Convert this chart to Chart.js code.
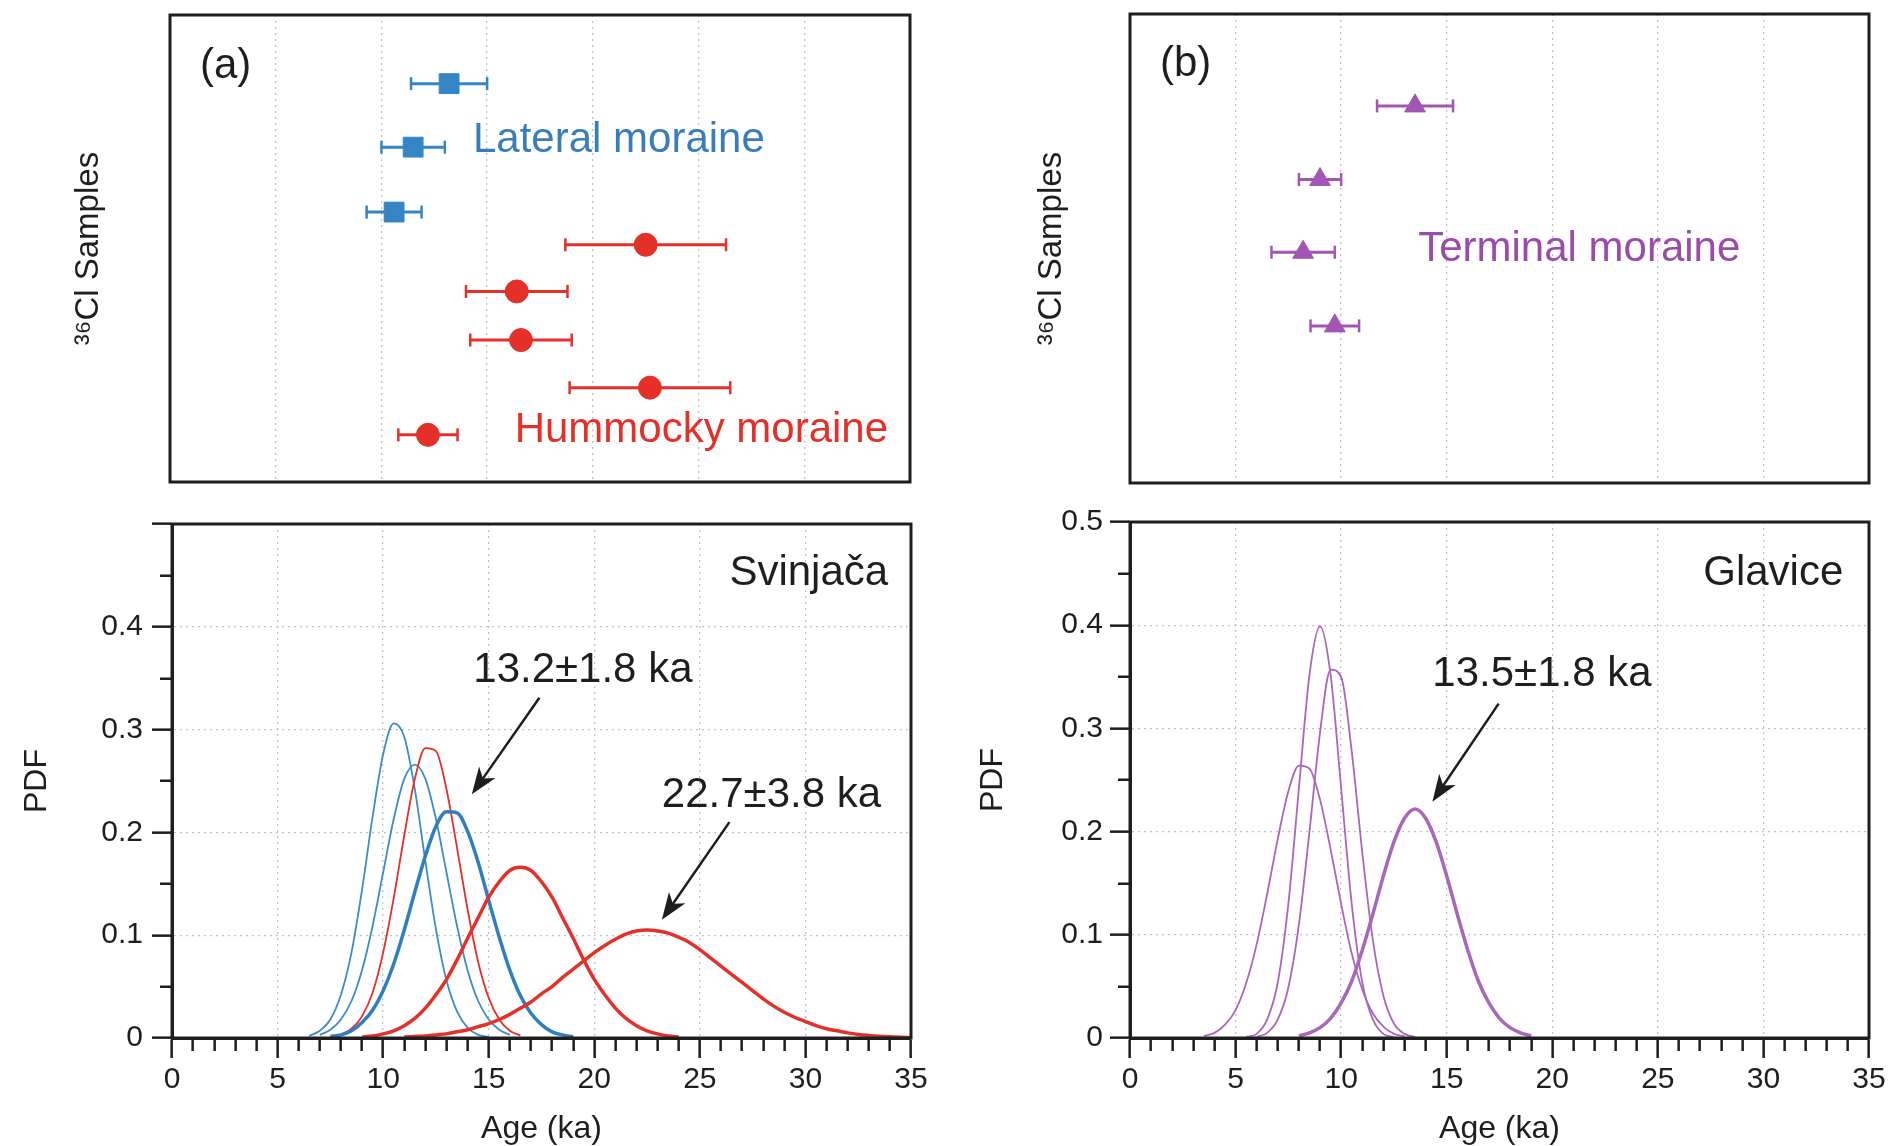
<!DOCTYPE html>
<html>
<head>
<meta charset="utf-8">
<title>36Cl ages - Svinjaca / Glavice</title>
<script src="https://cdn.jsdelivr.net/npm/chart.js@4.4.1/dist/chart.umd.min.js"></script>
<style>
  body { margin: 0; background: #fff; }
  #wrap { position: relative; width: 1894px; height: 1146px; overflow: hidden; }
  #wrap canvas { position: absolute; }
</style>
</head>
<body>
<div id="wrap">
  <canvas id="topLeft" width="947" height="497" style="left:0;top:0;width:947px;height:497px"></canvas>
  <canvas id="topRight" width="947" height="497" style="left:947px;top:0;width:947px;height:497px"></canvas>
  <canvas id="pdfLeft" width="947" height="649" style="left:0;top:497px;width:947px;height:649px"></canvas>
  <canvas id="pdfRight" width="947" height="649" style="left:947px;top:497px;width:947px;height:649px"></canvas>
</div>
<script>

// Sample ages (ka), with 1 sigma errors
// rows = vertical position of each sample, 0 = top of box, 1 = bottom
// --------------------------------------------
const lateralAge = [13.2, 11.5, 10.6]
const lateralErr = [1.8, 1.5, 1.3]
const lateralRow = [0.147, 0.283, 0.422]

const hummockyAge = [22.5, 16.4, 16.6, 22.7, 12.2]
const hummockyErr = [3.8, 2.4, 2.4, 3.8, 1.4]
const hummockyRow = [0.492, 0.592, 0.696, 0.798, 0.899]

const terminalAge = [13.5, 9.0, 8.2, 9.7]
const terminalErr = [1.8, 1.0, 1.5, 1.15]
const terminalRow = [0.196, 0.353, 0.508, 0.665]

// Probability curves
// each array lines up with its age grid, missing = curve not drawn there
// --------------------------------------------
const svinjacaAges = [6.5, 7, 7.5, 8, 8.5, 9, 9.5, 10, 10.5, 11,
    11.5, 12, 12.5, 13, 13.5, 14, 14.5, 15, 15.5, 16,
    16.5, 17, 17.5, 18, 18.5, 19, 19.5, 20, 20.5, 21,
    21.5, 22, 22.5, 23, 23.5, 24, 24.5, 25, 25.5, 26,
    26.5, 27, 27.5, 28, 28.5, 29, 29.5, 30, 30.5, 31,
    31.5, 32, 32.5, 33, 33.5, 34, 34.5, 35]

const pdfLateral1 = [0.002, 0.007, 0.018, 0.042, 0.083, 0.144, 0.215, 0.276, 0.306, 0.293,
    0.242, 0.172, 0.106, 0.056, 0.026, 0.010, 0.003, 0.001]
const pdfLateral2 = [null, 0.003, 0.008, 0.018, 0.036, 0.066, 0.109, 0.161, 0.213, 0.252,
    0.266, 0.252, 0.213, 0.161, 0.109, 0.066, 0.036, 0.018, 0.008, 0.003]
const pdfLateralMean = [null, null, 0.0015, 0.003, 0.007, 0.015, 0.027, 0.046, 0.072, 0.105,
    0.142, 0.177, 0.206, 0.220, 0.219, 0.201, 0.171, 0.134, 0.098, 0.066,
    0.041, 0.024, 0.013, 0.006, 0.003, 0.001]
const pdfHummocky1 = [null, null, null, 0.003, 0.009, 0.021, 0.044, 0.083, 0.136, 0.197,
    0.252, 0.282, 0.279, 0.242, 0.185, 0.125, 0.074, 0.039, 0.018, 0.007,
    0.0025]
const pdfHummocky2 = [null, null, null, null, null, 0.001, 0.002, 0.004, 0.007, 0.012,
    0.019, 0.029, 0.042, 0.057, 0.076, 0.097, 0.117, 0.137, 0.152, 0.163,
    0.166, 0.163, 0.152, 0.137, 0.117, 0.097, 0.076, 0.057, 0.042, 0.029,
    0.019, 0.012, 0.007, 0.004, 0.002, 0.001]
const pdfHummockyOld = [null, null, null, null, null, null, null, null, null, 0.001,
    0.0015, 0.002, 0.003, 0.004, 0.006, 0.008, 0.011, 0.014, 0.018, 0.023,
    0.029, 0.035, 0.043, 0.050, 0.059, 0.067, 0.075, 0.083, 0.090, 0.096,
    0.101, 0.104, 0.105, 0.104, 0.102, 0.098, 0.093, 0.086, 0.078, 0.070,
    0.062, 0.054, 0.046, 0.038, 0.031, 0.025, 0.020, 0.016, 0.012, 0.009,
    0.007, 0.005, 0.0035, 0.0025, 0.0017, 0.0012, 0.0008, 0.0005]

const glaviceAges = [3.5, 4, 4.5, 5, 5.5, 6, 6.5, 7, 7.5, 8,
    8.5, 9, 9.5, 10, 10.5, 11, 11.5, 12, 12.5, 13,
    13.5, 14, 14.5, 15, 15.5, 16, 16.5, 17, 17.5, 18,
    18.5, 19, 19.5, 20]

const pdfTerminal1 = [0.002, 0.005, 0.013, 0.027, 0.053, 0.091, 0.140, 0.193, 0.239, 0.264,
    0.261, 0.231, 0.183, 0.130, 0.082, 0.047, 0.024, 0.011, 0.004, 0.0016]
const pdfTerminal2 = [null, null, null, null, 0.001, 0.004, 0.018, 0.054, 0.130, 0.242,
    0.352, 0.399, 0.352, 0.242, 0.130, 0.054, 0.018, 0.004, 0.001]
const pdfTerminal3 = [null, null, null, null, null, 0.001, 0.005, 0.018, 0.049, 0.110,
    0.200, 0.296, 0.357, 0.350, 0.278, 0.180, 0.095, 0.041, 0.014, 0.004,
    0.001]
const pdfTerminalMean = [null, null, null, null, null, null, null, null, null, 0.002,
    0.005, 0.010, 0.019, 0.034, 0.055, 0.085, 0.120, 0.157, 0.190, 0.213,
    0.222, 0.213, 0.190, 0.157, 0.120, 0.085, 0.055, 0.034, 0.019, 0.010,
    0.005, 0.002]

const xTicks = [0, 5, 10, 15, 20, 25, 30, 35]

const BLUE = '#3585c4'
const BLUE_TXT = '#3a7dbb'
const RED = '#e5302a'
const PURPLE = '#a256b3'
const PURPLE_LINE = '#a867b8'
const INK = '#1e1e1e'
const GRID = '#c2c2c2'
const FONT = "'Liberation Sans', Arial, Helvetica, sans-serif"

Chart.defaults.font.family = FONT
Chart.defaults.color = INK


// Builds {x,y} points from an age grid and a curve
// --------------------------------------------
function curve(ages, values) {
    let pts = []
    for (let i = 0; i < ages.length; i++) {
        if (values[i] !== null && values[i] !== undefined) pts.push({ x: ages[i], y: values[i] })
    }
    return pts
}

// Error bar segments, null point breaks the line between samples
// --------------------------------------------
function errorBars(ages, errs, rows) {
    let pts = []
    for (let i = 0; i < ages.length; i++) {
        pts.push({ x: ages[i] - errs[i], y: rows[i] })
        pts.push({ x: ages[i] + errs[i], y: rows[i] })
        pts.push({ x: ages[i], y: null })
    }
    return pts
}

function markers(ages, rows, style, radius, color) {
    return {
        data: ages.map((a, i) => ({ x: a, y: rows[i] })),
        showLine: false,
        pointStyle: style,
        pointRadius: radius,
        pointBackgroundColor: color,
        pointBorderColor: color,
        pointBorderWidth: 1
    }
}

function bars(ages, errs, rows, color) {
    return {
        data: errorBars(ages, errs, rows),
        borderColor: color,
        borderWidth: 3,
        pointStyle: 'line',
        pointRotation: 90,
        pointRadius: 6.5,
        pointBorderColor: color,
        pointBorderWidth: 2.5
    }
}

function pdfLine(ages, values, color, width) {
    return {
        data: curve(ages, values),
        borderColor: color,
        borderWidth: width,
        pointRadius: 0,
        cubicInterpolationMode: 'monotone'
    }
}


// Frame round every plot area
// --------------------------------------------
Chart.register({
    id: 'frame',
    afterDraw(chart) {
        const a = chart.chartArea, ctx = chart.ctx
        ctx.save()
        ctx.lineWidth = 3
        ctx.strokeStyle = INK
        ctx.strokeRect(a.left, a.top, a.right - a.left, a.bottom - a.top)
        ctx.restore()
    }
})

// Labels and arrows placed in data units
// --------------------------------------------
function notes(texts, arrows) {
    return {
        id: 'notes',
        afterDatasetsDraw(chart) {
            const ctx = chart.ctx, xs = chart.scales.x, ys = chart.scales.y
            ctx.save()
            for (const a of arrows) {
                const x1 = xs.getPixelForValue(a[0]), y1 = ys.getPixelForValue(a[1])
                const x2 = xs.getPixelForValue(a[2]), y2 = ys.getPixelForValue(a[3])
                const ang = Math.atan2(y2 - y1, x2 - x1)
                const c = Math.cos(ang), s = Math.sin(ang)
                const head = 27, half = 10
                ctx.strokeStyle = INK
                ctx.fillStyle = INK
                ctx.lineWidth = 2.5
                ctx.beginPath()
                ctx.moveTo(x1, y1)
                ctx.lineTo(x2 - head * 0.7 * c, y2 - head * 0.7 * s)
                ctx.stroke()
                ctx.beginPath()
                ctx.moveTo(x2, y2)
                ctx.lineTo(x2 - head * c - half * s, y2 - head * s + half * c)
                ctx.lineTo(x2 - head * 0.72 * c, y2 - head * 0.72 * s)
                ctx.lineTo(x2 - head * c + half * s, y2 - head * s - half * c)
                ctx.closePath()
                ctx.fill()
            }
            for (const t of texts) {
                ctx.font = (t.size || 42) + 'px ' + FONT
                ctx.fillStyle = t.color || INK
                ctx.textAlign = 'left'
                ctx.textBaseline = 'middle'
                ctx.fillText(t.text, xs.getPixelForValue(t.x), ys.getPixelForValue(t.y))
            }
            ctx.restore()
        }
    }
}


// Top panels: samples with error bars
// --------------------------------------------
function sampleChart(id, datasets, yWidth, titlePad, padRight, texts) {
    return new Chart(document.getElementById(id), {
        type: 'line',
        data: { datasets: datasets },
        options: {
            responsive: false,
            animation: false,
            events: [],
            layout: { padding: { left: 0, top: 14, right: padRight, bottom: 14 } },
            plugins: { legend: { display: false }, tooltip: { enabled: false } },
            scales: {
                x: {
                    type: 'linear', min: 0, max: 35,
                    afterBuildTicks: s => { s.ticks = xTicks.map(v => ({ value: v })) },
                    ticks: { display: false },
                    grid: {
                        drawTicks: false, lineWidth: 1.3,
                        color: c => (c.tick && c.tick.value > 0 && c.tick.value < 35) ? GRID : 'transparent'
                    },
                    border: { display: false, dash: [2, 4] },
                    afterFit: s => { s.height = 0 }
                },
                y: {
                    type: 'linear', min: 0, max: 1, reverse: true,
                    ticks: { display: false },
                    grid: { display: false },
                    border: { display: false },
                    title: {
                        display: true, text: '³⁶Cl Samples', color: INK,
                        font: { size: 33 }, padding: { top: titlePad, bottom: 0 }
                    },
                    afterFit: s => { s.width = yWidth }
                }
            }
        },
        plugins: [notes(texts, [])]
    })
}

// Bottom panels: probability density curves
// --------------------------------------------
function pdfChart(id, datasets, yWidth, titlePad, labelPad, padRight, showTop, texts, arrows) {
    return new Chart(document.getElementById(id), {
        type: 'line',
        data: { datasets: datasets },
        options: {
            responsive: false,
            animation: false,
            events: [],
            layout: { padding: { left: 0, top: 13, right: padRight, bottom: 0 } },
            plugins: { legend: { display: false }, tooltip: { enabled: false } },
            scales: {
                x: {
                    type: 'linear', min: 0, max: 35,
                    ticks: {
                        stepSize: 1, autoSkip: false, maxRotation: 0, padding: 4,
                        font: { size: 30 }, color: INK,
                        callback: v => (v % 5 === 0 ? String(v) : '')
                    },
                    grid: {
                        lineWidth: 1.3, tickLength: 20, tickWidth: 2.5, tickColor: INK,
                        color: c => (c.tick && c.tick.value % 5 === 0 && c.tick.value > 0 && c.tick.value < 35) ? GRID : 'transparent',
                        tickBorderDash: c => (c.tick && c.tick.value % 5 === 0) ? [] : [11, 40]
                    },
                    border: { display: true, width: 3, color: INK, dash: [2, 4] },
                    title: {
                        display: true, text: 'Age (ka)', color: INK,
                        font: { size: 32, lineHeight: 1 }, padding: { top: 0, bottom: 1 }
                    },
                    afterFit: s => { s.height = 108 }
                },
                y: {
                    type: 'linear', min: 0, max: 0.5,
                    ticks: {
                        stepSize: 0.05, autoSkip: false, padding: labelPad,
                        font: { size: 30 }, color: INK,
                        callback: v => {
                            const k = Math.round(v * 100)
                            if (k % 10 !== 0) return ''
                            if (k === 0) return '0'
                            if (k === 50 && !showTop) return ''
                            return (k / 100).toFixed(1)
                        }
                    },
                    grid: {
                        lineWidth: 1.3, tickLength: 20, tickWidth: 2.5, tickColor: INK,
                        color: c => {
                            if (!c.tick) return 'transparent'
                            const k = Math.round(c.tick.value * 100)
                            return (k % 10 === 0 && k > 0 && k < 50) ? GRID : 'transparent'
                        },
                        tickBorderDash: c => (c.tick && Math.round(c.tick.value * 100) % 10 === 0) ? [] : [0, 8, 12, 40]
                    },
                    border: { display: true, width: 3, color: INK, dash: [2, 4] },
                    title: {
                        display: true, text: 'PDF', color: INK,
                        font: { size: 32 }, padding: { top: titlePad, bottom: 0 }
                    },
                    afterFit: s => { s.width = yWidth }
                }
            }
        },
        plugins: [notes(texts, arrows)]
    })
}


// Main program flow
// --------------------------------------------
sampleChart('topLeft', [
    markers(lateralAge, lateralRow, 'rect', 14, BLUE),
    markers(hummockyAge, hummockyRow, 'circle', 11.5, RED),
    bars(lateralAge, lateralErr, lateralRow, BLUE),
    bars(hummockyAge, hummockyErr, hummockyRow, RED)
], 170, 69, 37, [
    { text: '(a)', x: 1.42, y: 0.111 },
    { text: 'Lateral moraine', x: 14.33, y: 0.268, color: BLUE_TXT },
    { text: 'Hummocky moraine', x: 16.3, y: 0.89, color: RED }
])

sampleChart('topRight', [
    markers(terminalAge, terminalRow, 'triangle', 12, PURPLE),
    bars(terminalAge, terminalErr, terminalRow, PURPLE)
], 183, 85, 25, [
    { text: '(b)', x: 1.42, y: 0.108 },
    { text: 'Terminal moraine', x: 13.65, y: 0.503, color: '#9b4caa' }
])

pdfChart('pdfLeft', [
    pdfLine(svinjacaAges, pdfHummockyOld, RED, 3.5),
    pdfLine(svinjacaAges, pdfHummocky2, RED, 3.5),
    pdfLine(svinjacaAges, pdfLateralMean, '#2f7fc0', 3.5),
    pdfLine(svinjacaAges, pdfHummocky1, RED, 1.8),
    pdfLine(svinjacaAges, pdfLateral2, '#3d8cc6', 1.8),
    pdfLine(svinjacaAges, pdfLateral1, '#3d8cc6', 1.8)
], 172, 18, 9, 36, false, [
    { text: 'Svinjača', x: 26.4, y: 0.452 },
    { text: '13.2±1.8 ka', x: 14.27, y: 0.358 },
    { text: '22.7±3.8 ka', x: 23.2, y: 0.236 }
], [
    [17.4, 0.331, 14.2, 0.237],
    [26.4, 0.21, 23.2, 0.115]
])

pdfChart('pdfRight', [
    pdfLine(glaviceAges, pdfTerminalMean, PURPLE_LINE, 3.5),
    pdfLine(glaviceAges, pdfTerminal1, PURPLE_LINE, 1.8),
    pdfLine(glaviceAges, pdfTerminal2, PURPLE_LINE, 1.8),
    pdfLine(glaviceAges, pdfTerminal3, PURPLE_LINE, 1.8)
], 183, 27, 7, 25, true, [
    { text: 'Glavice', x: 27.15, y: 0.45 },
    { text: '13.5±1.8 ka', x: 14.32, y: 0.352 }
], [
    [17.46, 0.324, 14.32, 0.229]
])

</script>
</body>
</html>
